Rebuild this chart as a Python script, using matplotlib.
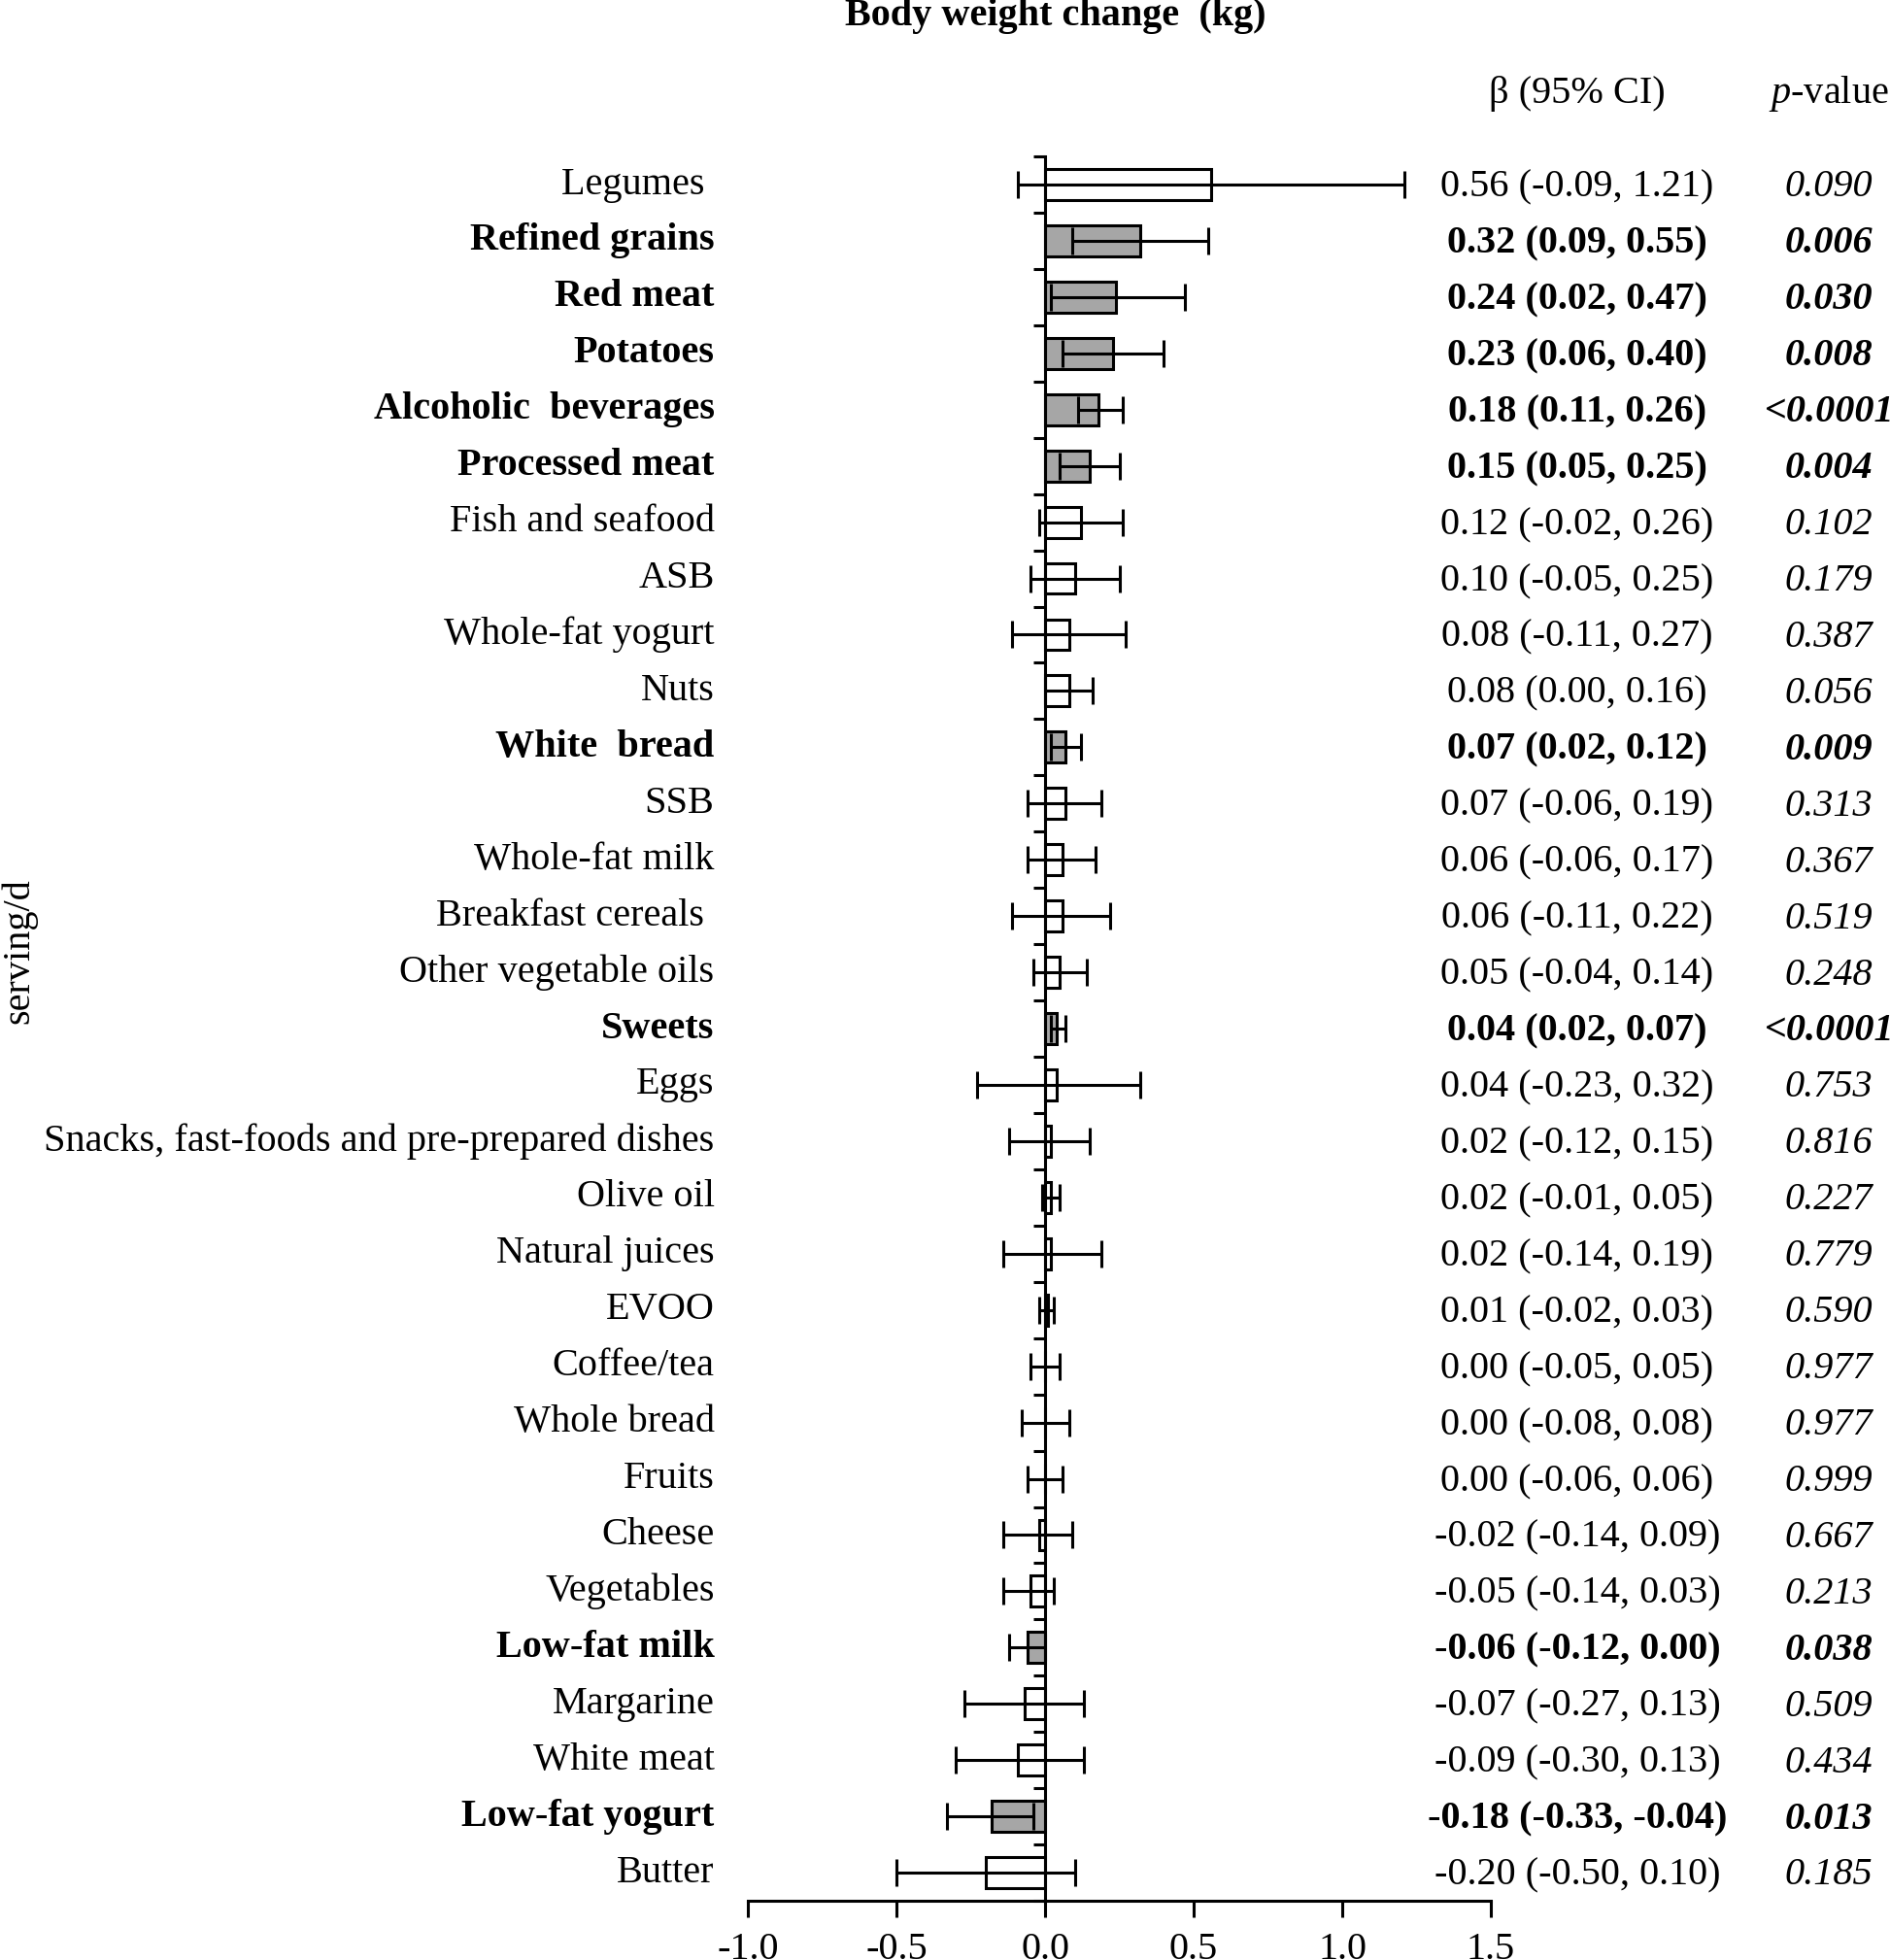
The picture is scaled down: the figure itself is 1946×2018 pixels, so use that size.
import matplotlib
matplotlib.use('Agg')
import matplotlib.pyplot as plt
import numpy as np
from matplotlib.transforms import blended_transform_factory

plt.rcParams['font.family'] = ['Liberation Serif', 'DejaVu Serif']
plt.rcParams['mathtext.fontset'] = 'custom'
plt.rcParams['mathtext.rm'] = 'Liberation Serif'
plt.rcParams['mathtext.it'] = 'Liberation Serif:italic'

# food groups, top to bottom
foods = ['Legumes ', 'Refined grains', 'Red meat', 'Potatoes', 'Alcoholic  beverages',
         'Processed meat', 'Fish and seafood', 'ASB', 'Whole-fat yogurt', 'Nuts',
         'White  bread', 'SSB', 'Whole-fat milk', 'Breakfast cereals ', 'Other vegetable oils',
         'Sweets', 'Eggs', 'Snacks, fast-foods and pre-prepared dishes', 'Olive oil',
         'Natural juices', 'EVOO', 'Coffee/tea', 'Whole bread', 'Fruits', 'Cheese',
         'Vegetables', 'Low-fat milk', 'Margarine', 'White meat', 'Low-fat yogurt', 'Butter']
beta = [0.56, 0.32, 0.24, 0.23, 0.18, 0.15, 0.12, 0.10, 0.08, 0.08, 0.07, 0.07, 0.06, 0.06,
        0.05, 0.04, 0.04, 0.02, 0.02, 0.02, 0.01, 0.00, 0.00, 0.00, -0.02, -0.05, -0.06,
        -0.07, -0.09, -0.18, -0.20]
ci_low = [-0.09, 0.09, 0.02, 0.06, 0.11, 0.05, -0.02, -0.05, -0.11, 0.00, 0.02, -0.06, -0.06,
          -0.11, -0.04, 0.02, -0.23, -0.12, -0.01, -0.14, -0.02, -0.05, -0.08, -0.06, -0.14,
          -0.14, -0.12, -0.27, -0.30, -0.33, -0.50]
ci_high = [1.21, 0.55, 0.47, 0.40, 0.26, 0.25, 0.26, 0.25, 0.27, 0.16, 0.12, 0.19, 0.17, 0.22,
           0.14, 0.07, 0.32, 0.15, 0.05, 0.19, 0.03, 0.05, 0.08, 0.06, 0.09, 0.03, 0.00, 0.13,
           0.13, -0.04, 0.10]
pvals = ['0.090', '0.006', '0.030', '0.008', '<0.0001', '0.004', '0.102', '0.179', '0.387',
         '0.056', '0.009', '0.313', '0.367', '0.519', '0.248', '<0.0001', '0.753', '0.816',
         '0.227', '0.779', '0.590', '0.977', '0.977', '0.999', '0.667', '0.213', '0.038',
         '0.509', '0.434', '0.013', '0.185']
signif = [False, True, True, True, True, True, False, False, False, False, True, False, False,
          False, False, True, False, False, False, False, False, False, False, False, False,
          False, True, False, False, True, False]

beta = np.array(beta)
lo = np.array(ci_low)
hi = np.array(ci_high)
y = np.arange(len(foods))

fs = 29

fig = plt.figure(figsize=(19.46, 20.18), dpi=100)
ax = fig.add_axes([0.3957, 0.0302, 0.3931, 0.89])

colors = ['#a6a6a6' if s else 'white' for s in signif]
ax.barh(y, beta, height=0.55, color=colors, edgecolor='black', linewidth=2.2, zorder=2)
ax.errorbar(beta, y, xerr=[beta - lo, hi - beta], fmt='none', ecolor='black',
            elinewidth=2.2, capsize=10, capthick=2.2, zorder=3)

ax.set_ylim(len(foods) - 0.5, -0.5)
ax.set_xlim(-1.0, 1.5)
ax.set_xticks([-1.0, -0.5, 0.0, 0.5, 1.0, 1.5])
ax.set_xticklabels(['-1.0', '-0.5', '0.0', '0.5', '1.0', '1.5'], fontsize=fs)
ax.set_yticks(np.arange(len(foods) + 1) - 0.5)
ax.set_yticklabels([])
ax.spines['left'].set_position(('data', 0))
ax.spines['top'].set_visible(False)
ax.spines['right'].set_visible(False)
ax.spines['left'].set_linewidth(2.2)
ax.spines['bottom'].set_linewidth(2.2)
ax.tick_params(axis='x', direction='out', length=12, width=2.2, pad=11)
ax.tick_params(axis='y', direction='out', length=9, width=2.2)

tr = blended_transform_factory(fig.transFigure, ax.transData)
for i in range(len(foods)):
    w = 'bold' if signif[i] else 'normal'
    ax.text(0.378, y[i], foods[i], transform=tr, ha='right', va='center',
            fontsize=fs, fontweight=w)
    ci_txt = '%.2f (%.2f, %.2f)' % (beta[i], lo[i], hi[i])
    ax.text(0.8345, y[i] + 0.05, ci_txt, transform=tr, ha='center', va='center',
            fontsize=fs, fontweight=w)
    ax.text(0.9676, y[i] + 0.05, pvals[i], transform=tr, ha='center', va='center',
            fontsize=fs, fontweight=w, style='italic')

fig.text(0.5585, 0.9916, 'Body weight change  (kg)', ha='center', va='center',
         fontsize=fs, fontweight='bold')
fig.text(0.8345, 0.952, 'β (95% CI)', ha='center', va='center', fontsize=fs)
fig.text(0.9676, 0.952, r'$\mathit{p}$-value', ha='center', va='center', fontsize=fs)
fig.text(0.01, 0.515, 'serving/d', rotation=90, ha='center', va='center', fontsize=fs)

fig.savefig('out.png', dpi=100)
